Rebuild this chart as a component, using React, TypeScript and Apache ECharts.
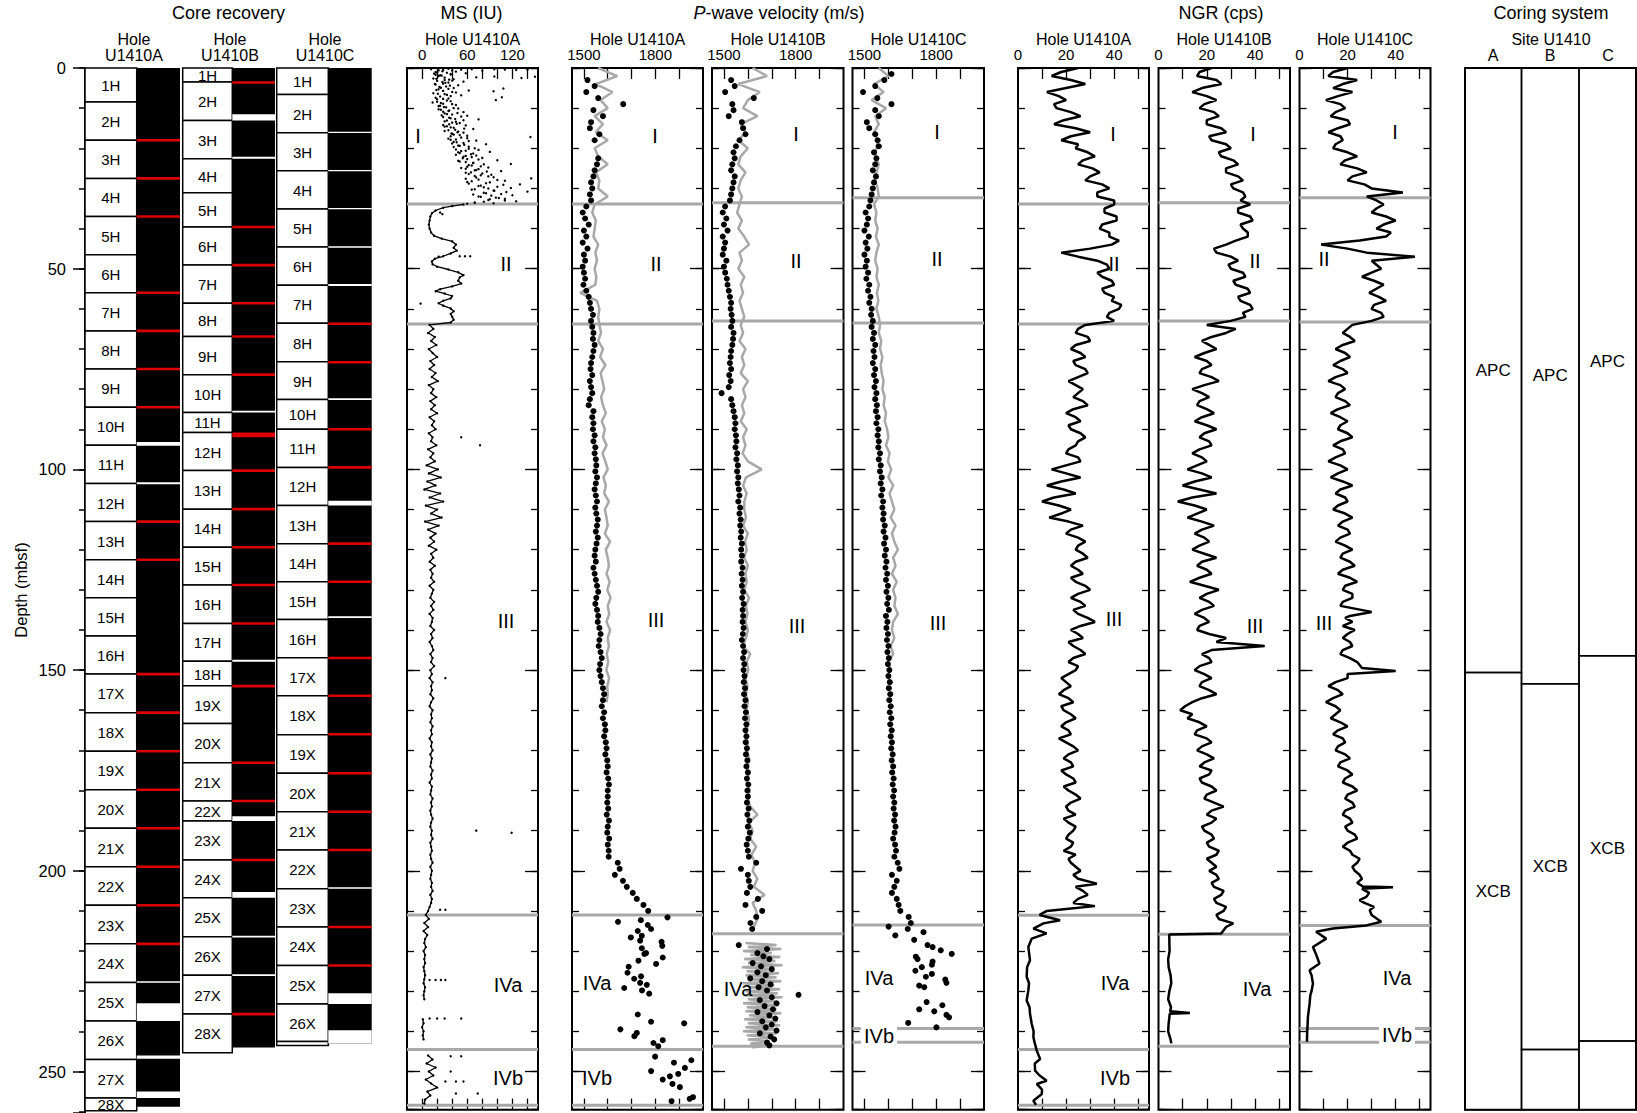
import React, { useEffect, useRef } from 'react';
import * as echarts from 'echarts';

const FONT = '"Liberation Sans", Arial, Helvetica, sans-serif';
const TOP = 68;
const PXM = 4.014;
const PANEL_MAX = 259.5;
const CORE_HEIGHT = 1045;
const CORE_MAX = CORE_HEIGHT / PXM;

// ---------------- Core recovery ----------------
const coreLabelsA = ['1H','2H','3H','4H','5H','6H','7H','8H','9H','10H','11H','12H','13H','14H','15H','16H','17X','18X','19X','20X','21X','22X','23X','24X','25X','26X','27X','28X'];
const coreBoundsA = [0,8.5,18,27.5,37,46.5,56,65.5,75,84.5,94,103.5,113,122.5,132,141.5,151,160.6,170.2,179.8,189.4,199,208.6,218.2,227.8,237.4,247,256.6,259.8];
const recoveredA = 258.8;
const gapsA = [[93.2,94.1],[103.2,103.7],[227.5,227.9],[233.0,237.4],[246.0,246.8],[255.0,256.6]];
const redA = [18,27.5,37,56,65.5,75,84.5,113,122.5,151,160.6,170.2,179.8,189.4,199,208.6,218.2];

const coreLabelsB = ['1H','2H','3H','4H','5H','6H','7H','8H','9H','10H','11H','12H','13H','14H','15H','16H','17H','18H','19X','20X','21X','22X','23X','24X','25X','26X','27X','28X'];
const coreBoundsB = [0,3.5,13.1,22.6,31.1,39.6,49.1,58.6,66.9,76.4,85.8,90.8,100.3,109.9,119.4,128.8,138.4,147.8,153.9,163.3,173.1,182.6,187.6,197.3,206.7,216.4,226.0,235.7,245.3];
const recoveredB = 244.0;
const gapsB = [[11.5,13.1],[22.1,22.6],[85.4,85.8],[147.4,147.9],[186.4,187.6],[205.3,206.7],[216.2,216.6],[225.8,226.2]];
const redB = [3.6,39.6,49.1,58.6,66.9,76.4,100.3,109.9,119.4,128.8,138.4,154.0,173.1,182.6,197.3,235.7];
const redBandsB = [[90.8,92.0]];

const coreLabelsC = ['1H','2H','3H','4H','5H','6H','7H','8H','9H','10H','11H','12H','13H','14H','15H','16H','17X','18X','19X','20X','21X','22X','23X','24X','25X','26X',''];
const coreBoundsC = [0,6.6,16.1,25.6,35.1,44.6,54.1,63.6,73.2,82.6,90.0,99.5,109.0,118.5,128.0,137.4,146.9,156.4,166.1,175.7,185.3,194.8,204.5,214.0,223.6,233.2,242.5,243.5];
const recoveredC = 243.0;
const gapsC = [[15.9,16.2],[25.4,25.7],[34.9,35.2],[44.4,44.8],[53.8,54.3],[82.3,82.7],[107.8,109.0],[136.6,137.0],[204.1,204.5],[230.5,233.2],[239.7,243.0]];
const redC = [63.7,73.3,90.0,99.5,118.5,128.0,147.0,156.4,166.0,175.7,185.3,194.8,214.0,223.6];

// ---------------- Coring system ----------------
const coringA = [['APC',0,150.6],['XCB',150.6,259.5]];
const coringB = [['APC',0,153.4],['XCB',153.4,244.5],['',244.5,259.5]];
const coringC = [['APC',0,146.4],['XCB',146.4,242.4],['',242.4,259.5]];

// ---------------- Tick labels ----------------
const msTicks = [0,20,40,60,80,100,120,140];
const msTickLabels = [0,60,120];
const pwTicks = [1500,1600,1700,1800,1900];
const pwTickLabels = [1500,1800];
const ngrTicks = [10,20,30,40,50];
const ngrTickLabels = [0,20,40];

// ---------------- Unit boundaries (mbsf) ----------------
const unitsMS = [33.9,63.8,211.0,244.5,258.4];
const unitsPwA = [33.9,63.8,211.0,244.5,258.4];
const unitsPwB = [33.6,63.0,215.7,243.7];
const unitsPwC = [32.3,63.5,213.5,239.3,242.7];
const unitsNgrA = [33.9,63.8,211.1,244.5,258.4];
const unitsNgrB = [33.6,63.0,215.8,243.7];
const unitsNgrC = [32.3,63.3,213.6,239.3,242.7];

// ---------------- MS (IU), Hole U1410A ----------------
// [depth, MS]
const msUnitI = [
[0.3,66],[0.3,12],[0.4,140],[0.5,28],[0.3,96],[0.6,40],[0.4,52],[0.5,125],[0.7,80],[0.4,110],[0.9,45],[1.1,20],[1.3,58],[1.2,33],[1.5,38],[1.7,18],[1.9,26],[2.1,96],[2.0,22],[2.3,72],[2.2,150],[2.6,15],[2.5,132],[2.8,42],[3.0,30],[3.2,20],[3.4,55],[3.6,35],[3.9,28],[4.1,18],[4.3,48],[4.6,32],[4.9,25],[5.1,108],[5.0,42],[5.3,22],[5.6,62],[5.8,95],[6.0,40],[6.3,15],[6.5,30],[6.8,52],[7.1,24],[7.3,106],[7.6,35],[7.8,20],[8.0,98],[8.3,38],[8.6,14],[8.9,28],[9.2,45],[9.5,22],[9.8,32],
[10.1,48],[10.4,25],[10.7,35],[11.0,55],[11.3,30],[11.6,40],[11.9,60],[12.2,28],[12.5,38],[12.8,75],[13.1,33],[13.4,45],[13.7,50],[14.0,36],[14.3,58],[14.6,30],[14.9,42],[15.2,68],[15.5,35],[15.8,48],[16.1,55],[16.4,40],[16.7,50],[17.0,38],[17.2,144],[17.5,60],[17.8,45],[18.1,72],[18.4,42],[18.7,55],[19.0,85],[19.3,48],[19.6,62],
[20.0,70],[20.3,45],[20.6,58],[20.9,90],[21.2,50],[21.5,65],[21.8,72],[22.1,55],[22.4,80],[22.7,60],[23.0,100],[23.3,50],[23.6,68],[23.9,118],[24.2,62],[24.5,78],[24.8,88],[25.1,58],[25.4,72],[25.7,105],[26.0,65],[26.3,80],[26.6,92],[26.9,70],[27.2,95],[27.5,145],[27.8,75],[28.1,110],[28.4,60],[28.7,85],[29.0,130],[29.3,78],[29.6,100],[29.9,118],[30.2,70],[30.5,95],[30.8,140],[31.1,82],[31.4,105],[31.7,120],[32.0,75],[32.3,98],[32.6,110],[32.9,88],[33.2,125],[33.5,70],[33.7,95],[33.8,60]
];
const msUnitIcore = [
[0.2,35],[0.6,22],[0.8,27],[1.0,18],[1.4,16],[1.6,38],[1.8,24],[2.4,30],[2.7,19],[2.9,36],[3.1,40],[3.5,27],[3.7,31],[4.0,17],[4.4,37],[4.7,23],[5.2,35],[5.5,19],[5.7,28],[6.1,45],[6.4,21],[6.7,33],[7.0,38],[7.4,18],[7.7,28],[8.1,33],[8.4,20],[8.7,25],[9.0,40],[9.4,24],[9.7,29],
[10.0,42],[10.3,22],[10.6,36],[10.9,28],[11.2,47],[11.5,33],[11.8,26],[12.1,52],[12.4,36],[12.7,44],[13.0,55],[13.3,30],[13.6,40],[13.9,46],[14.2,28],[14.5,33],[14.8,38],[15.1,56],[15.4,44],[15.7,30],[16.0,47],[16.3,39],[16.6,42],[16.9,60],[17.3,52],[17.6,35],[17.9,38],[18.2,62],[18.5,46],[18.8,40],[19.1,56],[19.4,50],[19.7,42],
[20.1,62],[20.4,75],[20.7,52],[21.0,48],[21.3,68],[21.6,45],[21.9,58],[22.2,66],[22.5,54],[22.8,75],[23.1,48],[23.4,58],[23.7,68],[24.0,82],[24.3,66],[24.6,60],[24.9,52],[25.2,75],[25.5,70],[25.8,86],[26.1,58],[26.4,62],[26.7,78],[27.0,88],[27.3,72],[27.6,58],[27.9,100],[28.2,66],[28.5,90],[28.8,62],[29.1,108],[29.4,75],[29.7,82],[30.0,88],[30.3,66],[30.6,96],[30.9,112],[31.2,85],[31.5,68],[31.8,92],[32.1,78],[32.4,102],[32.7,90],[33.0,110],[33.3,82],[33.6,70]
];
const msOutliers = [[36.0,24],[36.4,27],[46.9,50],[46.9,57],[46.9,64],[47.0,22],[58.7,-2],[92,52],[94,77],[152,31],[190,72],[190.5,119],[209.7,24],[209.7,31],[227.2,10],[227.2,18],[227.2,25],[227.2,31],[236.8,10],[236.8,20],[236.8,30],[236.8,52],[246.2,38],[246.2,52],[250,38],[252.5,31],[252.5,45],[252.5,55],[255.5,45],[255.5,74]];
const msUnitII = [[34.0,55],[34.4,40],[34.8,28],[35.5,18],[36.2,13],[37,11],[38,10],[39,9],[40,10],[41,12],[41.8,16],[42.5,26],[43.2,40],[44,45],[44.8,42],[45.5,46],[46.2,38],[46.9,28],[47.5,17],[48.2,13],[48.9,14],[49.5,20],[50.2,35],[50.9,48],[51.6,55],[52.2,50],[53,48],[53.7,52],[54.4,40],[55.1,24],[55.6,18],[56.2,30],[56.8,40],[57.4,38],[58,28],[58.6,22],[59.2,28],[59.9,38],[60.6,42],[61.3,38],[62,40],[62.7,42],[63.4,38]];
// 1-m samples from 64 mbsf
const msDeepStart = 64;
const msDeep = [
10,15,8,17,12,19,9,14,20,11,
16,10,18,13,21,9,15,12,19,11,
17,12,20,10,16,13,18,9,14,12,
19,8,15,11,17,6,21,9,25,7,
18,3,24,10,28,5,20,12,26,4,
22,8,18,11,16,9,19,12,15,10,
17,11,14,12,16,10,15,13,11,16,
12,15,10,14,13,11,16,12,14,10,
13,15,11,14,12,16,11,13,10,14,
12,13,11,15,12,10,14,12,13,11,
14,12,13,10,13,12,14,11,13,12,
11,14,12,13,10,13,12,11,14,12,
13,11,12,14,12,11,13,12,14,11,
12,13,11,12,14,11,13,12,11,13,
12,14,11,13,12,10,8,5,9,3,
8,2,7,4,3,5,2,4,3,4,
2,3,4,3,2,4,3,2,3,null,
null,null,null,1,2,0,2,1,2,null,
null,null,8,14,6,18,9,15,5,12,
20,7,11,4,3
];

// ---------------- P-wave velocity (m/s) ----------------
// logger (grey), 2-m samples from 0 mbsf
const pwGrayA = [
1560,1640,1550,1620,1570,1600,1545,1580,1550,1600,1545,1560,1600,1550,1565,1560,1600,
1545,1535,1550,1545,1540,1560,1548,1555,1545,1552,1548,1485,1555,1565,1560,
1565,1572,1560,1580,1568,1590,1570,1578,1585,1572,1580,1592,1575,1588,1580,1595,1578,1590,1600,1582,1592,1585,1605,1588,1595,1600,1588,1610,1592,1600,1605,1595,1608,1598,1612,1600,1606,1595,1610,1600,1605,1596,1602,1594,1606,1598,1600,1595
];
const pwGrayB = [
1620,1680,1560,1650,1600,1580,1640,1570,1590,1560,1600,1570,1560,1590,1570,1560,1575,
1565,1555,1575,1560,1585,1605,1565,1575,1560,1585,1570,1580,1565,1575,1585,
1570,1580,1565,1590,1575,1585,1570,1600,1580,1590,
1575,1585,1570,1595,1580,1590,1578,1600,1658,1592,
1580,1595,1585,1585,1592,1580,1600,1588,1595,1585,
1600,1590,1595,1585,1605,1592,1598,1590,1600,1592,
1580,1610,1595,1602,1590,1598,1592,1600,1595,1605,
1598,1592,1600,1595,1605,1598,1602,1595,1608,1600,
1610,1640,1605,1620,1610,1635,1615,1630,1620,1640,
1625,1670,1620,1635,1640,1625
];
const pwGrayC = [
1560,1600,1540,1580,1530,1590,1545,1560,1540,1555,1550,1545,1560,1550,1545,1555,1560,
1540,1550,1545,1555,1548,1560,1550,1545,1555,1550,1560,1552,1558,1550,1560,
1565,1560,1570,1565,1575,1568,1572,1580,1575,1585,1580,1590,1585,1595,1600,1590,1605,1598,1612,1600,1620,1605,1615,1625,1610,1630,1615,1625,1640,1620,1630,1615,1635,1620,1630,1625,1640,1620,1615,1625,1610,1620,1600,1610
];
// Hole B logger band in Unit IVa, 0.5-m samples from 218 mbsf
const pwGrayBandBStart = 218;
const pwGrayBandB = [
1590,1720,1600,1740,1580,1700,1610,1735,1585,1715,
1600,1745,1575,1705,1595,1730,1590,1720,1605,1740,
1580,1710,1600,1735,1590,1725,1585,1745,1600,1715,
1580,1730,1595,1720,1590,1740,1605,1710,1585,1725,
1600,1735,1590,1715,1580,1720,1595,1700,1600,1690,
1610,1680,1620
];
// discrete measurements (black), 1.5-m spacing from 1.5 mbsf
const pwDotsA = [
null,1515,1545,1510,1560,1665,1540,1580,1530,1525,
1565,1545,null,null,1560,1555,1545,1540,1530,1535,
1525,1530,1510,1495,1505,1520,1500,1510,1495,1515,
1500,1505,1495,1500,1505,1498,1510,1520,1525,1530,
1538,1530,1535,1540,1538,1545,1540,1535,1530,1528,
1535,1525,1530,1535,1525,1520,1540,1535,1540,1538,
1545,1540,1548,1545,1550,1552,1548,1555,1550,1545,
1550,1555,1548,1552,1558,1555,1550,1558,1553,1548,
1545,1550,1540,1545,1550,1555,1560,1552,1548,1555,
1560,1558,1565,1570,1565,1562,1570,1575,1568,1565,
1570,1575,1580,1585,1580,1575,1585,1580,1588,1590,
1585,1592,1595,1590,1598,1600,1595,1602,1605,1600,
1600,1598,1602,1596,1605,1600,1598,1606,1600,1604,
1604,1642,1650,1630,1664,1680,1705,1722,1750,1770
];
const pwDotsB = [
null,1530,1545,1505,1625,1535,1540,1520,1575,1580,
1590,1565,1550,1540,1545,1535,1530,1545,1540,1535,
1530,1525,1505,1495,1510,1500,1515,1495,1505,1500,
1495,1510,1500,1505,1512,1515,1520,1525,1530,1528,
1532,1535,1530,1540,1538,1535,1530,1528,1525,1530,
1522,1528,1520,1490,1530,1535,1540,1545,1548,1545,
1550,1552,1548,1555,1552,1558,1555,1560,1558,1562,
1565,1560,1568,1565,1570,1568,1572,1570,1575,1572,
1575,1572,1578,1574,1578,1575,1580,1576,1582,1578,
1580,1578,1582,1579,1575,1580,1584,1580,1585,1582,
1586,1583,1588,1584,1590,1586,1592,1588,1594,1590,
1594,1591,1596,1592,1598,1594,1600,1596,1602,1598,
1600,1596,1603,1598,1606,1600,1608,1602,1595,1600,
1604,1635,1571,1600,1604,1610,1596,1642,1590,1660,1635,1611,1618
];
const pwDotsC = [
1613,1583,1545,1494,1554,1613,1545,1560,1510,1520,
1545,1555,1560,1540,1550,1545,1535,1548,1540,1535,
1530,1525,1520,1505,1515,1510,1500,1518,1505,1512,
1500,1510,1505,1515,1508,1520,1515,1525,1520,1530,
1528,1535,1530,1540,1535,1545,1538,1542,1535,1545,
1540,1548,1542,1550,1545,1552,1548,1555,1550,1558,
1555,1560,1558,1565,1560,1568,1565,1572,1568,1575,
1570,1578,1575,1580,1578,1585,1580,1588,1582,1590,
1585,1592,1588,1595,1590,1598,1592,1600,1595,1602,
1590,1596,1592,1598,1594,1600,1596,1602,1598,1604,
1600,1606,1602,1608,1604,1610,1606,1612,1608,1614,
1610,1615,1612,1618,1614,1620,1616,1622,1618,1624,
1620,1625,1622,1628,1624,1630,1626,1620,1628,1632,
1625,1639,1646,1615,1635,1625,1615,1635,1643,1650,1685,1694
];
// deeper discrete measurements [depth, velocity]
const pwDeepA = [[212.7,1643],[212.3,1739],[211.6,1851],[213.5,1768],[214.5,1782],[215,1726],[216.6,1697],[216.2,1743],[217.4,1736],[217.7,1826],[218.7,1829],[219.3,1743],[220.7,1754],[220.5,1761],[221.6,1831],[222.4,1729],[223.2,1803],[223.9,1688],[225.4,1683],[226.9,1711],[226.3,1740],[227.9,1736],[228.4,1764],[229.8,1744],[230.6,1774],[229.2,1669],[235.8,1726],[237.6,1782],[238.0,1921],[239.5,1653],[240.4,1722],[241.2,1712],[242.9,1792],[243.7,1812],[242.2,1831],[246.3,1799],[247.8,1878],[247.2,1951],[249.9,1782],[249.1,1924],[250.6,1896],[252,1831],[251.2,1861],[253.1,1872],[253.9,1903],[257.4,1868],[256.8,1944],[256.4,1958]];
const pwDeepB = [[218.5,1562],[219.5,1680],[220.5,1640],[221.3,1665],[222,1690],[223,1620],[223.8,1655],[224.5,1700],[225.3,1640],[226,1675],[226.8,1610],[227.5,1660],[228.3,1695],[229,1645],[229.8,1680],[230.9,1812],[231.5,1700],[232.2,1650],[233,1720],[233.7,1670],[234.5,1705],[235.2,1640],[236,1690],[236.8,1715],[237.5,1660],[238.3,1700],[239,1675],[239.8,1720],[240.5,1650],[241.3,1695],[242,1710],[242.8,1680],[243.5,1690]];
const pwDeepC = [[213.9,1601],[216.1,1629],[214.5,1681],[215.3,1747],[217.2,1708],[218.5,1764],[219,1785],[219.8,1819],[220.7,1865],[221.4,1715],[222,1722],[222.6,1785],[223.4,1782],[224.9,1713],[224,1740],[226.4,1757],[225.7,1782],[227.1,1838],[227.9,1843],[228.6,1729],[229,1750],[232.7,1760],[233.5,1826],[234.5,1729],[235,1792],[235.9,1843],[236.5,1854],[237.9,1683],[239,1801]];

// ---------------- NGR (cps) [depth, counts] ----------------
const ngrA = [
[0,25],[1,18],[2,14],[3,22],[4,28],[5,20],[6,12],[7,17],[8,20],[9,15],[10,16],[11,22],[12,26],[13,19],[14,15],[15,24],[16,30],[17,22],[18,18],[19,25],[20,24],[21,29],[22,32],[23,27],[24,25],[25,31],[26,34],[27,30],[28,28],[29,35],[30,38],[31,33],[32,33],[33,40],
[34,40],[35,36],[36,36],[37,41],[38,41],[39,35],[40,34],[41,38],[42,38],[43,42],[44,39],[45,30],[46,18],[47,25],[48,33],[49,37],[50,38],[51,33],[52,35],[53,39],[54,40],[55,35],[56,36],[57,40],[58,39],[59,43],[60,42],[61,38],[62,37],[63,40],
[64,28],[65,25],[66,24],[67,29],[68,30],[69,24],[70,22],[71,26],[72,28],[73,23],[74,24],[75,28],[76,29],[77,25],[78,21],[79,24],[80,27],[81,25],[82,23],[83,27],[84,29],[85,23],[86,20],[87,24],[88,26],[89,21],[90,22],[91,26],[92,28],[93,25],[94,24],[95,21],[96,20],[97,25],[98,26],[99,20],
[100,14],[101,20],[102,26],[103,18],[104,12],[105,19],[106,24],[107,15],[108,10],[109,17],[110,22],[111,18],[112,13],[113,21],[114,27],[115,22],[116,20],[117,25],[118,28],[119,25],
[120,24],[121,27],[122,29],[123,24],[124,22],[125,25],[126,27],[127,22],[128,24],[129,28],[130,30],[131,25],[132,22],[133,26],[134,28],[135,23],[136,25],[137,29],[138,32],[139,26],[140,22],[141,25],[142,27],[143,21],[144,23],[145,26],[146,28],[147,23],[148,21],[149,25],
[150,24],[151,21],[152,18],[153,20],[154,22],[155,19],[156,17],[157,21],[158,23],[159,18],[160,19],[161,22],[162,24],[163,20],[164,18],[165,21],[166,22],[167,17],[168,20],[169,23],[170,25],[171,21],[172,19],[173,22],[174,23],[175,18],[176,20],[177,23],[178,24],[179,19],[180,21],[181,24],[182,26],[183,22],[184,20],[185,21],[186,24],[187,19],[188,21],[189,24],[190,23],[191,21],[192,20],[193,23],[194,22],[195,19],[196,24],[197,21],[198,22],[199,24],
[200,26],[201,23],[202,25],[203.2,32.8],[204,24],[205,27],[206,29],[207,25],[208,23],[208.8,32],[209.5,20],[210,12],[211,9],[212.3,17.5],[213.1,10.6],[214.4,6.4],[215.6,11.9],[216.9,5.7],[219,4.3],[222.3,5],[224,3.8],[226.4,3.6],[228,4.6],[229.8,4.3],[232.3,3.6],[234,4.8],[235.6,5],[238.1,5.7],[240,6.5],[241.4,6.4],[243,7],[244.8,7.8],[246.9,9.2],[248,7],[249.8,7.1],[251,9],[252.3,11.9],[253.1,7.8],[254.5,10],[255.6,9.9],[257.3,6.4],[258.3,7.5]
];
const ngrB = [
[0,22],[1,17],[2,16],[3,24],[4,26],[5,18],[6,14],[7,20],[8,24],[9,19],[10,17],[11,23],[12,25],[13,20],[14,20],[15,26],[16,28],[17,21],[18,22],[19,28],[20,30],[21,25],[22,26],[23,31],[24,33],[25,28],[26,28],[27,33],[28,35],[29,30],[30,31],[31,35],[32,36],[33,34],
[34,38],[35,33],[36,33],[37,38],[38,39],[39,34],[40,35],[41,37],[42,37],[43,32],[44,28],[45,23],[46,24],[47,30],[48,33],[49,29],[50,30],[51,35],[52,36],[53,31],[54,32],[55,37],[56,38],[57,33],[58,34],[59,38],[60,39],[61,35],[62,36],[63,30],
[64,20],[65,32],[66,28],[67,22],[68,18],[69,21],[70,24],[71,19],[72,15],[73,20],[74,22],[75,18],[76,17],[77,22],[78,25],[79,19],[80,14],[81,18],[82,21],[83,17],[84,16],[85,20],[86,23],[87,18],[88,15],[89,20],[90,24],[91,19],[92,17],[93,21],[94,22],[95,17],[96,14],[97,18],[98,20],[99,16],
[100,12],[101,18],[102,22],[103,15],[104,10],[105,17],[106,24],[107,14],[108,8],[109,15],[110,20],[111,16],[112,12],[113,18],[114,23],[115,18],[116,15],[117,19],[118,21],[119,17],
[120,14],[121,19],[122,24],[123,18],[124,16],[125,20],[126,22],[127,17],[128,13],[129,19],[130,25],[131,20],[132,17],[133,21],[134,23],[135,18],[136,15],[137,19],[138,21],[139,17],[140,16],[141,21],[142,28],[143,24],[144,44],[145,22],[146,18],[147,21],[148,22],[149,17],
[150,15],[151,19],[152,22],[153,18],[154,17],[155,21],[156,24],[157,18],[158,14],[159,11],[160,9],[161,14],[162,12],[163,17],[164,20],[165,16],[166,15],[167,20],[168,22],[169,18],[170,16],[171,20],[172,23],[173,19],[174,17],[175,22],[176,21],[177,17],[178,18],[179,22],[180,24],[181,20],[182,19],[183,23],[184,27],[185,22],[186,20],[187,24],[188,22],[189,18],[190,19],[191,22],[192,23],[193,20],[194,21],[195,25],[196,24],[197,20],[198,22],[199,24],
[200,21],[201,24],[202,25],[203,22],[204,23],[205,27],[206,26],[207,23],[208,24],[209,28],[210,27],[211,24],[212,25],[213.1,31],[214,28],[215.6,26],[215.9,4.4],[217,4.5],[218,4.5],[220,4.6],[222,4],[224,4.2],[226,5],[228,5.3],[230,4.5],[232,4],[234,5.2],[235,4.8],[235.4,13],[235.6,4.6],[236,4.6],[238,4.2],[240,4],[242,5],[243,5.3]
];
const ngrC = [
[0,20],[1,14],[2,12],[3,24],[4,18],[5,14],[6,22],[7,16],[8,11],[9,17],[10,19],[11,15],[12,13],[13,20],[14,21],[15,16],[16,12],[17,17],[18,18],[19,15],[20,14],[21,20],[22,24],[23,19],[24,17],[25,24],[26,28],[27,22],[28,20],[29,27],[30,30],[31,43],[32,28],[33,32],
[34,35],[35,32],[36,30],[37,36],[38,40],[39,35],[40,32],[41,38],[42,36],[43,25],[44,9],[45,20],[46,28],[47,48],[48,30],[49,32],[50,34],[51,30],[52,26],[53,31],[54,35],[55,32],[56,29],[57,33],[58,36],[59,31],[60,30],[61,34],[62,35],[63,30],
[64,22],[65,20],[66,18],[67,21],[68,23],[69,18],[70,15],[71,19],[72,21],[73,17],[74,14],[75,18],[76,20],[77,15],[78,12],[79,17],[80,19],[81,16],[82,15],[83,19],[84,21],[85,16],[86,13],[87,17],[88,20],[89,17],[90,16],[91,20],[92,22],[93,17],[94,14],[95,18],[96,19],[97,15],[98,12],[99,17],
[100,20],[101,16],[102,13],[103,18],[104,22],[105,17],[106,15],[107,19],[108,20],[109,16],[110,14],[111,19],[112,22],[113,18],[114,16],[115,20],[116,21],[117,17],[118,15],[119,19],
[120,22],[121,18],[122,17],[123,21],[124,23],[125,18],[126,16],[127,21],[128,24],[129,19],[130,18],[131,22],[132,22],[133,18],[134,17],[135.5,30],[136.5,21],[137,19],[138,22],[139,18],[140,23],[141,20],[142,18],[143,21],[144,22],[145,18],[146,17],[147,21],[148,24],[149.5,26],[150.2,40],[151,20],[152,20],[153,15],[154,12],[155,16],[156,18],[157,14],[158,11],[159,15],
[160,17],[161,15],[162,13],[163,17],[164,20],[165,16],[166,14],[167,18],[168,19],[169,16],[170,15],[171,19],[172,21],[173,17],[174,16],[175,20],[176,22],[177,19],[178,18],[179,22],[180,24],[181,20],[182,19],[183,22],[184,23],[185,19],[186,18],[187,21],[188,22],[189,19],[190,20],[191,23],[192,24],[193,20],[194,18],[195,21],[196,22],[197,25],[198,24],[199,22],
[200,23],[201,25],[202,26],[203,24],[203.9,26.4],[204.1,38.9],[204.5,26],[205.5,29],[206.5,27.8],[207.3,25],[208,27],[209,31],[209.8,29.2],[211,30],[212.7,34],[213.6,27.8],[214.4,13.9],[215.2,6.9],[216.9,11.1],[219,5.6],[221,7],[223.1,8.3],[224.8,4.2],[226,5],[228.1,5.6],[230,5],[231,4.5],[233.1,4.2],[235,3.8],[236.4,3.5],[238,3.4],[240,3.2],[242.6,3.1]
];

// ---------------- helpers ----------------
const pairs = (arr: number[][]) => arr.map(([d, v]) => [v, d]);
const stepped = (vals: (number | null)[], start: number, step: number) =>
  vals.map((v, i) => (v == null ? ['-', '-'] : [v, +(start + i * step).toFixed(3)]));
const steppedPts = (vals: (number | null)[], start: number, step: number) => {
  const out: number[][] = [];
  vals.forEach((v, i) => { if (v != null) out.push([v, +(start + i * step).toFixed(3)]); });
  return out;
};

function txt(text: string, x: number, y: number, size: number, extra: any = {}) {
  return {
    type: 'text', x, y, z: 10, silent: true,
    style: Object.assign({
      text, font: `${size}px ${FONT}`, fill: '#000',
      align: 'center', verticalAlign: 'middle', textAlign: 'center', textVerticalAlign: 'middle',
    }, extra),
  };
}

function buildOption() {
  const grids: any[] = [];
  const xAxes: any[] = [];
  const yAxes: any[] = [];
  const series: any[] = [];
  const graphics: any[] = [];

  // ---- core recovery grid ----
  grids.push({ left: 85, top: TOP, width: 287, height: CORE_HEIGHT });
  xAxes.push({ gridIndex: 0, type: 'value', min: 0, max: 287, show: false, axisLine: { onZero: false } });
  yAxes.push({
    gridIndex: 0, type: 'value', inverse: true, min: 0, max: CORE_MAX, interval: 50, position: 'left',
    axisLine: { show: true, onZero: false, lineStyle: { color: '#000', width: 2 } },
    axisTick: { show: true, inside: false, length: 12, lineStyle: { color: '#000', width: 1.5 } },
    axisLabel: { show: true, margin: 19, color: '#000', fontSize: 16.5, fontFamily: FONT, formatter: (v: number) => (Math.abs(v % 50) < 1e-6 ? String(v) : '') },
    splitLine: { show: false },
  });

  // ---- data panels ----
  const panels = [
    { left: 407, width: 131, min: -20, max: 154, ticks: msTicks, labels: msTickLabels },
    { left: 572, width: 131, min: 1450, max: 2000, ticks: pwTicks, labels: pwTickLabels },
    { left: 712, width: 131.5, min: 1450, max: 2000, ticks: pwTicks, labels: pwTickLabels },
    { left: 852.5, width: 131.5, min: 1450, max: 2000, ticks: pwTicks, labels: pwTickLabels },
    { left: 1018, width: 131, min: 0, max: 54.5, ticks: ngrTicks, labels: ngrTickLabels },
    { left: 1158.5, width: 131.5, min: 0, max: 54.5, ticks: ngrTicks, labels: ngrTickLabels },
    { left: 1299.5, width: 131, min: 0, max: 54.5, ticks: ngrTicks, labels: ngrTickLabels },
  ];
  const tickLine = { color: '#000', width: 1.3 };
  panels.forEach((p, k) => {
    const gi = 1 + k;
    grids.push({ left: p.left, top: TOP, width: p.width, height: PANEL_MAX * PXM, show: true, borderColor: '#000', borderWidth: 2, backgroundColor: 'rgba(0,0,0,0)' });
    xAxes.push({
      gridIndex: gi, type: 'value', position: 'top', min: p.min, max: p.max,
      axisLine: { show: false, onZero: false }, splitLine: { show: false },
      axisTick: { show: true, inside: true, length: 11, customValues: p.ticks, lineStyle: tickLine },
      axisLabel: { show: true, customValues: p.labels, margin: 6, color: '#000', fontSize: 15, fontFamily: FONT, formatter: (v: number) => String(v) },
    });
    xAxes.push({
      gridIndex: gi, type: 'value', position: 'bottom', min: p.min, max: p.max,
      axisLine: { show: false, onZero: false }, splitLine: { show: false },
      axisTick: { show: true, inside: true, length: 11, customValues: p.ticks, lineStyle: tickLine },
      axisLabel: { show: false },
    });
    ['left', 'right'].forEach((pos) => {
      [[10, 7], [50, 13]].forEach(([iv, len]) => {
        yAxes.push({
          gridIndex: gi, type: 'value', inverse: true, min: 0, max: PANEL_MAX, interval: iv, position: pos,
          axisLine: { show: false, onZero: false }, splitLine: { show: false }, axisLabel: { show: false },
          axisTick: { show: true, inside: true, length: len, lineStyle: tickLine },
        });
      });
    });
  });

  // ---- coring grid ----
  grids.push({ left: 1465, top: TOP, width: 171, height: PANEL_MAX * PXM, show: true, borderColor: '#000', borderWidth: 2, backgroundColor: 'rgba(0,0,0,0)' });
  xAxes.push({ gridIndex: 8, type: 'value', min: 0, max: 171, show: false, axisLine: { onZero: false } });
  yAxes.push({ gridIndex: 8, type: 'value', inverse: true, min: 0, max: PANEL_MAX, show: false, axisLine: { onZero: false } });
  // core depth axis minor ticks (index 30)
  yAxes.push({
    gridIndex: 0, type: 'value', inverse: true, min: 0, max: CORE_MAX, interval: 10, position: 'left',
    axisLine: { show: false, onZero: false }, splitLine: { show: false }, axisLabel: { show: false },
    axisTick: { show: true, inside: false, length: 6, lineStyle: { color: '#000', width: 1.5 } },
  });

  // ---- core recovery series ----
  const holeX = [
    { box: [0, 51.7], col: [51.7, 95] },
    { box: [97.7, 147.3], col: [147.3, 190] },
    { box: [191.7, 243.3], col: [243.3, 286.7] },
  ];
  const holes = [
    { labels: coreLabelsA, bounds: coreBoundsA, rec: recoveredA, gaps: gapsA, red: redA, bands: [] as number[][] },
    { labels: coreLabelsB, bounds: coreBoundsB, rec: recoveredB, gaps: gapsB, red: redB, bands: redBandsB },
    { labels: coreLabelsC, bounds: coreBoundsC, rec: recoveredC, gaps: gapsC, red: redC, bands: [] as number[][] },
  ];
  const boxItems: number[][] = []; const boxLabels: string[] = [];
  const blackItems: number[][] = []; const gapItems: number[][] = [];
  const redItems: number[][] = []; const bandItems: number[][] = [];
  holes.forEach((h, hi) => {
    const L = holeX[hi];
    h.labels.forEach((lab, i) => { boxItems.push([L.box[0], L.box[1], h.bounds[i], h.bounds[i + 1]]); boxLabels.push(lab); });
    blackItems.push([L.col[0], L.col[1], 0, h.rec]);
    h.gaps.forEach((g) => gapItems.push([L.col[0], L.col[1], g[0], g[1]]));
    h.red.forEach((d) => redItems.push([L.col[0], L.col[1], d]));
    h.bands.forEach((g) => bandItems.push([L.col[0], L.col[1], g[0], g[1]]));
  });
  const rectSeries = (items: number[][], fill: string, xi: number, yi: number) => ({
    type: 'custom', xAxisIndex: xi, yAxisIndex: yi, silent: true, z: 2, data: items,
    renderItem: (params: any, api: any) => {
      const a = api.coord([api.value(0), api.value(2)]);
      const b = api.coord([api.value(1), api.value(3)]);
      return { type: 'rect', shape: { x: a[0], y: a[1], width: b[0] - a[0], height: Math.max(b[1] - a[1], 1.2) }, style: { fill } };
    },
  });
  series.push({
    type: 'custom', xAxisIndex: 0, yAxisIndex: 0, silent: true, z: 2, data: boxItems,
    renderItem: (params: any, api: any) => {
      const a = api.coord([api.value(0), api.value(2)]);
      const b = api.coord([api.value(1), api.value(3)]);
      return {
        type: 'group', children: [
          { type: 'rect', shape: { x: a[0], y: a[1], width: b[0] - a[0], height: b[1] - a[1] }, style: { fill: '#fff', stroke: '#000', lineWidth: 1.5 } },
          { type: 'text', style: { text: boxLabels[params.dataIndex], x: (a[0] + b[0]) / 2, y: (a[1] + b[1]) / 2 + 0.5, align: 'center', verticalAlign: 'middle', textAlign: 'center', textVerticalAlign: 'middle', font: `15px ${FONT}`, fill: '#000' } },
        ],
      };
    },
  });
  series.push(rectSeries(blackItems, '#000', 0, 0));
  series.push(rectSeries(gapItems, '#fff', 0, 0));
  series.push(rectSeries(bandItems, '#dd0000', 0, 0));
  series.push({
    type: 'custom', xAxisIndex: 0, yAxisIndex: 0, silent: true, z: 2, data: redItems,
    renderItem: (params: any, api: any) => {
      const a = api.coord([api.value(0), api.value(2)]);
      const b = api.coord([api.value(1), api.value(2)]);
      return { type: 'rect', shape: { x: a[0], y: a[1] - 1.3, width: b[0] - a[0], height: 2.6 }, style: { fill: '#dd0000' } };
    },
  });

  // ---- unit boundary lines ----
  const unitSets = [unitsMS, unitsPwA, unitsPwB, unitsPwC, unitsNgrA, unitsNgrB, unitsNgrC];
  unitSets.forEach((u, k) => {
    const p = panels[k];
    series.push({
      type: 'custom', xAxisIndex: 1 + 2 * k, yAxisIndex: 1 + 4 * k, silent: true, z: 1, clip: true,
      data: u.map((d) => [p.min, d]),
      renderItem: (params: any, api: any) => {
        const d = api.value(1);
        const a = api.coord([p.min, d]);
        const b = api.coord([p.max, d]);
        return { type: 'line', shape: { x1: a[0], y1: a[1], x2: b[0], y2: b[1] }, style: { stroke: '#a8a8a8', lineWidth: 3 } };
      },
    });
  });

  const lineS = (k: number, data: any[], color: string, width: number, extra: any = {}) => Object.assign({
    type: 'line', xAxisIndex: 1 + 2 * k, yAxisIndex: 1 + 4 * k, data, showSymbol: false, silent: true, z: 3,
    connectNulls: false, lineStyle: { color, width }, itemStyle: { color },
  }, extra);
  const dotS = (k: number, data: any[], size: number) => ({
    type: 'scatter', xAxisIndex: 1 + 2 * k, yAxisIndex: 1 + 4 * k, data, symbolSize: size, silent: true, z: 4,
    itemStyle: { color: '#000', opacity: 1 },
  });

  // MS
  series.push(lineS(0, [...pairs(msUnitII), ...stepped(msDeep, msDeepStart, 1)], '#000', 1.3, { showSymbol: true, symbol: 'circle', symbolSize: 2.4 }));
  series.push(dotS(0, pairs(msUnitI).concat(pairs(msUnitIcore), pairs(msOutliers)), 2.4));

  // P-wave
  series.push(lineS(1, stepped(pwGrayA, 0, 2), '#a8a8a8', 2.5));
  series.push(lineS(2, stepped(pwGrayB, 0, 2), '#a8a8a8', 2.5));
  series.push(lineS(2, stepped(pwGrayBandB, pwGrayBandBStart, 0.5), '#a8a8a8', 2.5));
  series.push(lineS(3, stepped(pwGrayC, 0, 2), '#a8a8a8', 2.5));
  series.push(dotS(1, steppedPts(pwDotsA, 1.5, 1.5).concat(pairs(pwDeepA)), 6));
  series.push(dotS(2, steppedPts(pwDotsB, 1.5, 1.5).concat(pairs(pwDeepB)), 6));
  series.push(dotS(3, steppedPts(pwDotsC, 1.5, 1.5).concat(pairs(pwDeepC)), 6));

  // NGR
  series.push(lineS(4, pairs(ngrA), '#000', 2.5));
  series.push(lineS(5, pairs(ngrB), '#000', 2.5));
  series.push(lineS(6, pairs(ngrC), '#000', 2.5));

  // ---- coring system ----
  const colX = [[0, 56.5], [56.5, 114], [114, 171]];
  const coringItems: number[][] = []; const coringLabels: string[] = [];
  [coringA, coringB, coringC].forEach((c, ci) => {
    c.forEach((s: any) => { coringItems.push([colX[ci][0], colX[ci][1], s[1], s[2]]); coringLabels.push(s[0]); });
  });
  series.push({
    type: 'custom', xAxisIndex: 15, yAxisIndex: 29, silent: true, z: 2, data: coringItems,
    renderItem: (params: any, api: any) => {
      const a = api.coord([api.value(0), api.value(2)]);
      const b = api.coord([api.value(1), api.value(3)]);
      return {
        type: 'group', children: [
          { type: 'rect', shape: { x: a[0], y: a[1], width: b[0] - a[0], height: b[1] - a[1] }, style: { fill: 'rgba(0,0,0,0)', stroke: '#000', lineWidth: 1.5 } },
          { type: 'text', style: { text: coringLabels[params.dataIndex], x: (a[0] + b[0]) / 2, y: (a[1] + b[1]) / 2, align: 'center', verticalAlign: 'middle', textAlign: 'center', textVerticalAlign: 'middle', font: `17px ${FONT}`, fill: '#000' } },
        ],
      };
    },
  });

  // ---- texts ----
  graphics.push(txt('Core recovery', 228.5, 13.3, 18));
  graphics.push(txt('MS (IU)', 471.5, 13.3, 18));
  graphics.push({
    type: 'text', x: 779, y: 13.3, z: 10, silent: true,
    style: {
      text: '{i|P}{n|-wave velocity (m/s)}', font: `18px ${FONT}`, fill: '#000',
      align: 'center', verticalAlign: 'middle', textAlign: 'center', textVerticalAlign: 'middle',
      rich: { i: { font: `italic 18px ${FONT}`, fill: '#000' }, n: { font: `18px ${FONT}`, fill: '#000' } },
    },
  });
  graphics.push(txt('NGR (cps)', 1221, 13.3, 18));
  graphics.push(txt('Coring system', 1551, 13.3, 18));

  [[134, 'U1410A'], [230, 'U1410B'], [325, 'U1410C']].forEach(([x, h]: any) => {
    graphics.push(txt('Hole', x, 39, 16));
    graphics.push(txt(h, x, 55.5, 16));
  });
  const subs: [number, string][] = [[472.5, 'Hole U1410A'], [637.5, 'Hole U1410A'], [778, 'Hole U1410B'], [918.5, 'Hole U1410C'], [1083.5, 'Hole U1410A'], [1224, 'Hole U1410B'], [1365, 'Hole U1410C']];
  subs.forEach(([x, t]) => graphics.push(txt(t, x, 39, 16)));
  graphics.push(txt('Site U1410', 1551, 39, 16));
  graphics.push(txt('A', 1493, 55.5, 16));
  graphics.push(txt('B', 1550, 55.5, 16));
  graphics.push(txt('C', 1608, 55.5, 16));
  graphics.push({
    type: 'text', x: 21, y: 590, rotation: Math.PI / 2, z: 10, silent: true,
    style: { text: 'Depth (mbsf)', font: `16.5px ${FONT}`, fill: '#000', align: 'center', verticalAlign: 'middle', textAlign: 'center', textVerticalAlign: 'middle' },
  });

  const unitLabelPos: [string, number, number, boolean?][] = [
    ['I', 418, 136], ['II', 506, 264], ['III', 506, 621], ['IVa', 508, 985], ['IVb', 508, 1078],
    ['I', 655, 136], ['II', 656, 264], ['III', 656, 620], ['IVa', 597, 983], ['IVb', 597, 1078],
    ['I', 796, 134], ['II', 796, 261], ['III', 797, 626], ['IVa', 738, 989],
    ['I', 937, 132], ['II', 937, 259], ['III', 938, 623], ['IVa', 879, 978], ['IVb', 879, 1036, true],
    ['I', 1113, 134], ['II', 1114, 264], ['III', 1114, 619], ['IVa', 1115, 983], ['IVb', 1115, 1078],
    ['I', 1253, 134], ['II', 1255, 261], ['III', 1255, 626], ['IVa', 1257, 989],
    ['I', 1395, 132], ['II', 1324, 259], ['III', 1324, 623], ['IVa', 1397, 978], ['IVb', 1397, 1035, true],
  ];
  unitLabelPos.forEach(([t, x, y, bg]) => {
    graphics.push(txt(t, x, y, 20, bg ? { backgroundColor: '#fff', padding: [1, 3] } : {}));
  });

  return {
    animation: false,
    backgroundColor: '#fff',
    textStyle: { fontFamily: FONT },
    grid: grids,
    xAxis: xAxes,
    yAxis: yAxes,
    series,
    graphic: { elements: graphics },
  };
}

export default function App() {
  const ref = useRef<HTMLDivElement | null>(null);
  useEffect(() => {
    if (!ref.current) return;
    const chart = echarts.init(ref.current, undefined, { renderer: 'svg' });
    chart.setOption(buildOption() as any);
    return () => { chart.dispose(); };
  }, []);
  return <div ref={ref} style={{ position: 'absolute', left: 0, top: 0, width: '1637px', height: '1113px', background: '#fff' }} />;
}
